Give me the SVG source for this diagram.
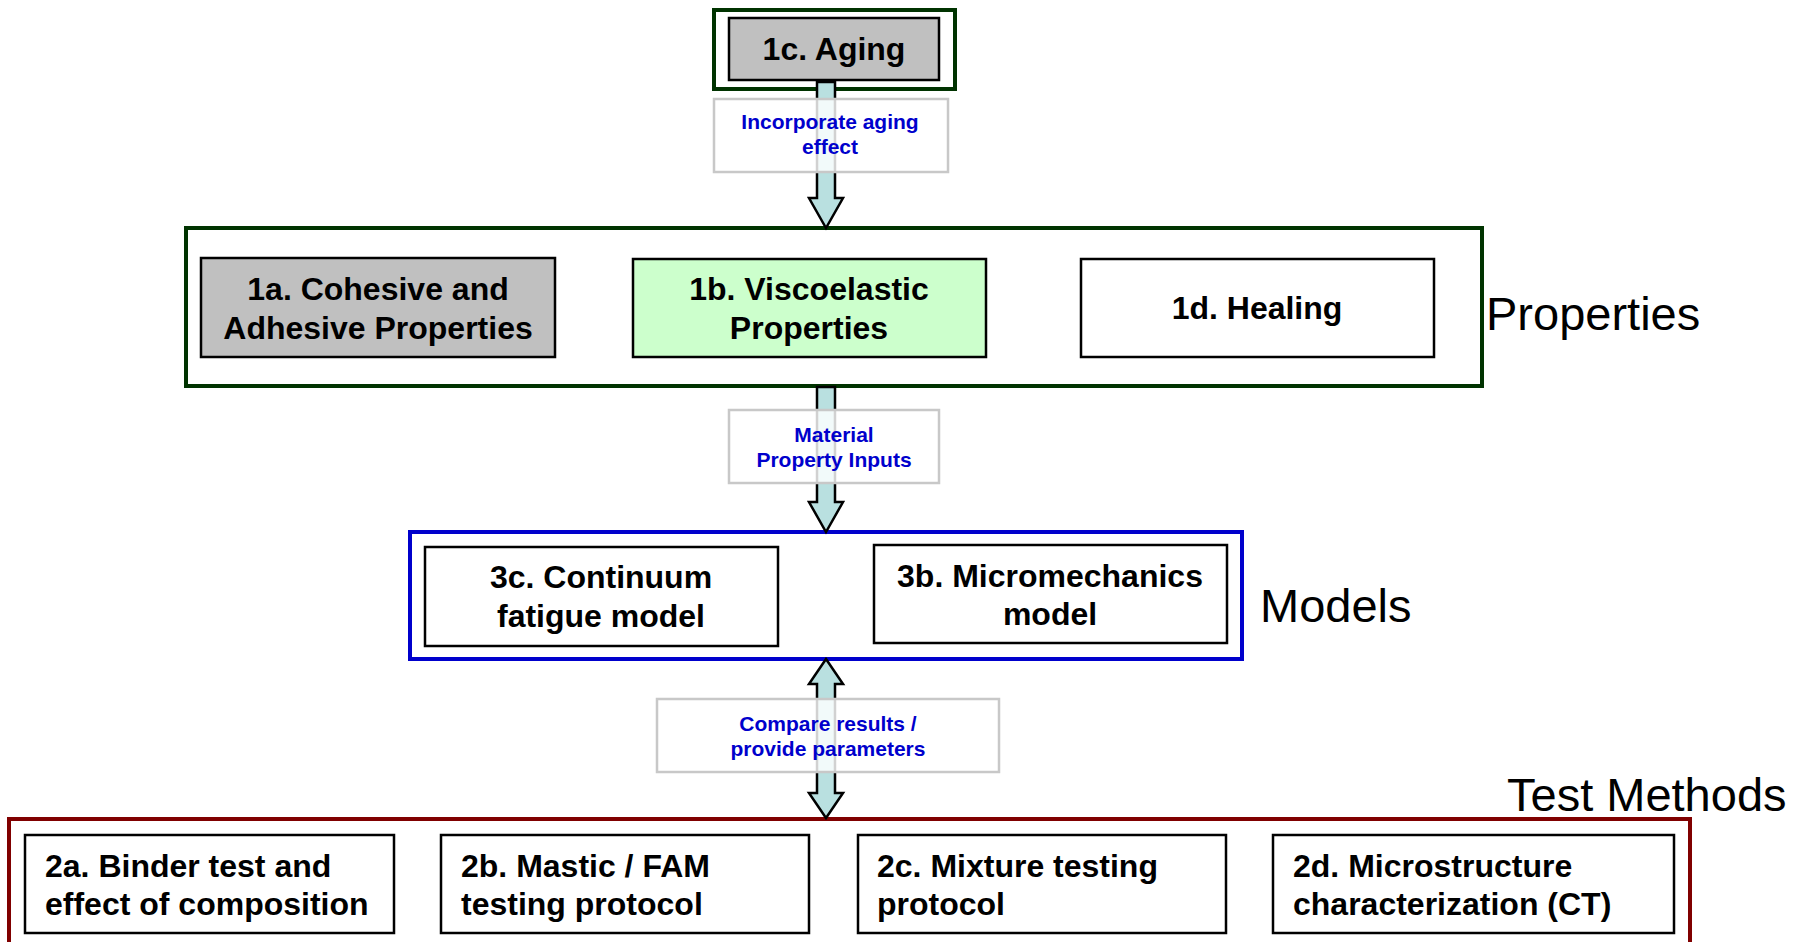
<svg xmlns="http://www.w3.org/2000/svg" width="1815" height="942" viewBox="0 0 1815 942">
<style>
.node{stroke:#000;stroke-width:2.5}
.t{font-family:"Liberation Sans",Arial,sans-serif;font-weight:bold;font-size:32px;fill:#000}
.tc{text-anchor:middle}
.lbl{font-family:"Liberation Sans",Arial,sans-serif;font-weight:bold;font-size:21px;fill:#0000cc;text-anchor:middle}
.lblbox{fill:#fff;fill-opacity:0.82;stroke:#c8c8c8;stroke-width:2.5}
.big{font-family:"Liberation Sans",Arial,sans-serif;font-size:47px;fill:#000}
.arrow{fill:#b9e0e0;stroke:#000;stroke-width:2.5;stroke-linejoin:miter}
</style>
<rect width="1815" height="942" fill="#fff"/>

<g id="aging-group">
<rect x="714" y="10" width="241" height="79" fill="#fff" stroke="#003300" stroke-width="4"/>
</g>
<g id="properties-group">
<rect x="186" y="228" width="1296" height="158" fill="#fff" stroke="#003300" stroke-width="4"/>
<text class="big" x="1486" y="330">Properties</text>
</g>
<g id="models-group">
<rect x="410" y="532" width="832" height="127" fill="#fff" stroke="#0000cc" stroke-width="4"/>
<text class="big" x="1260" y="622">Models</text>
</g>
<g id="tests-group">
<rect x="9" y="819" width="1681" height="140" fill="#fff" stroke="#800000" stroke-width="4"/>
<text class="big" x="1507" y="811">Test Methods</text>
</g>

<g id="n1c"><rect class="node" x="729" y="18" width="210" height="62" fill="#c0c0c0"/><text class="t tc" x="834" y="60">1c. Aging</text></g>
<g id="n1a"><rect class="node" x="201" y="258" width="354" height="99" fill="#c0c0c0"/><text class="t tc" x="378" y="300">1a. Cohesive and</text><text class="t tc" x="378" y="339">Adhesive Properties</text></g>
<g id="n1b"><rect class="node" x="633" y="259" width="353" height="98" fill="#ccffcc"/><text class="t tc" x="809" y="300">1b. Viscoelastic</text><text class="t tc" x="809" y="339">Properties</text></g>
<g id="n1d"><rect class="node" x="1081" y="259" width="353" height="98" fill="#fff"/><text class="t tc" x="1257" y="319">1d. Healing</text></g>
<g id="n3c"><rect class="node" x="425" y="547" width="353" height="99" fill="#fff"/><text class="t tc" x="601" y="588">3c. Continuum</text><text class="t tc" x="601" y="627">fatigue model</text></g>
<g id="n3b"><rect class="node" x="874" y="545" width="353" height="98" fill="#fff"/><text class="t tc" x="1050" y="587">3b. Micromechanics</text><text class="t tc" x="1050" y="625">model</text></g>
<g id="n2a"><rect class="node" x="25" y="835" width="369" height="98" fill="#fff"/><text class="t" x="45" y="877">2a. Binder test and</text><text class="t" x="45" y="915">effect of composition</text></g>
<g id="n2b"><rect class="node" x="441" y="835" width="368" height="98" fill="#fff"/><text class="t" x="461" y="877">2b. Mastic / FAM</text><text class="t" x="461" y="915">testing protocol</text></g>
<g id="n2c"><rect class="node" x="858" y="835" width="368" height="98" fill="#fff"/><text class="t" x="877" y="877">2c. Mixture testing</text><text class="t" x="877" y="915">protocol</text></g>
<g id="n2d"><rect class="node" x="1273" y="835" width="401" height="98" fill="#fff"/><text class="t" x="1293" y="877">2d. Microstructure</text><text class="t" x="1293" y="915">characterization (CT)</text></g>

<g id="connectors">
<path class="arrow" d="M817,82 L835,82 L835,198 L843,198 L826,228 L809,198 L817,198 Z"/>
<path class="arrow" d="M817,387 L835,387 L835,502 L843,502 L826,532 L809,502 L817,502 Z"/>
<path class="arrow" d="M826,659 L843,684 L835,684 L835,793 L843,793 L826,818 L809,793 L817,793 L817,684 L809,684 Z"/>
<rect class="lblbox" x="714" y="99" width="234" height="73"/>
<text class="lbl" x="830" y="129">Incorporate aging</text>
<text class="lbl" x="830" y="154">effect</text>
<rect class="lblbox" x="729" y="410" width="210" height="73"/>
<text class="lbl" x="834" y="442">Material</text>
<text class="lbl" x="834" y="467">Property Inputs</text>
<rect class="lblbox" x="657" y="699" width="342" height="73"/>
<text class="lbl" x="828" y="731">Compare results /</text>
<text class="lbl" x="828" y="756">provide parameters</text>
</g>
</svg>
